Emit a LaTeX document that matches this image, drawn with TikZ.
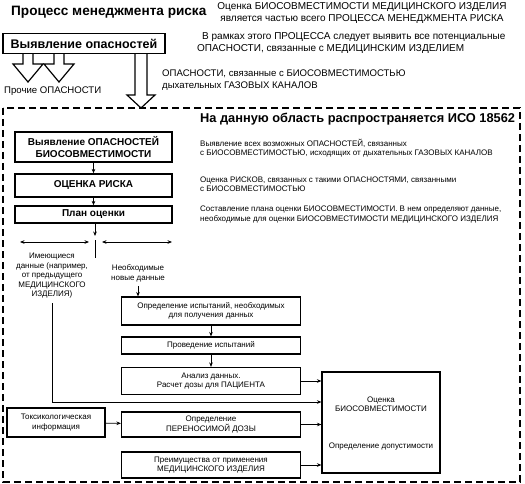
\documentclass[tikz,border=0pt]{standalone}
\usepackage{fontspec}
\setmainfont{Liberation Sans}
\usetikzlibrary{arrows.meta}
\newcommand\myfs[2]{\fontsize{#1}{#2}\selectfont}
\begin{document}
\begin{tikzpicture}[x=1pt,y=-1pt,
  box/.style={draw, line width=1.1pt, inner sep=0pt, align=center, font=\myfs{8}{9.5}},
  wbox/.style={box, minimum width=179pt},
  lbox/.style={draw, line width=1.3pt, inner sep=0pt, align=center, minimum width=157pt, font=\bfseries\myfs{10}{11.5}},
  txt/.style={inner sep=0pt, align=left, font=\myfs{8}{9.5}},
  mtxt/.style={inner sep=0pt, align=left, font=\myfs{9.6}{12}},
  conn/.style={line width=0.8pt, -{Stealth[length=4.5pt,width=3.6pt]}},
  plain/.style={line width=0.8pt},
  both/.style={line width=0.8pt, {Stealth[length=4.5pt,width=3.6pt]}-{Stealth[length=4.5pt,width=3.6pt]}},
  hollow/.style={draw, line width=1.2pt, fill=white, line join=miter}
]
\useasboundingbox (0,0) rectangle (525,484);
% dashed frame
\draw[line width=1.7pt, dash pattern=on 7pt off 4pt] (3,108) rectangle (520,482);
% top part
\node[inner sep=0pt, anchor=west, font=\bfseries\myfs{13.6}{15}] (title) at (11,12) {Процесс менеджмента риска};
\node[mtxt, align=center, font=\myfs{10}{12}] (tr1) at (362,13) {Оценка БИОСОВМЕСТИМОСТИ МЕДИЦИНСКОГО ИЗДЕЛИЯ\\является частью всего ПРОЦЕССА МЕНЕДЖМЕНТА РИСКА};
\node[mtxt, anchor=west, font=\myfs{10}{12}] (tr2) at (197,43.5) {\hspace*{5pt}В рамках этого ПРОЦЕССА следует выявить все потенциальные\\ОПАСНОСТИ, связанные с МЕДИЦИНСКИМ ИЗДЕЛИЕМ};
\node[mtxt, anchor=west] (tr3) at (162,80.5) {ОПАСНОСТИ, связанные с БИОСОВМЕСТИМОСТЬЮ\\дыхательных ГАЗОВЫХ КАНАЛОВ};
\node[mtxt, anchor=west] (other) at (4,91) {Прочие ОПАСНОСТИ};
% hollow arrows
\draw[hollow] (23,53) -- (23,64) -- (13,64) -- (28,82) -- (43,64) -- (33,64) -- (33,53);
\draw[hollow] (54,53) -- (54,64) -- (44,64) -- (59,82) -- (74,64) -- (64,64) -- (64,53);
\draw[hollow] (135,53) -- (135,95) -- (127,95) -- (141,108) -- (155,95) -- (147,95) -- (147,53);
\node[draw, line width=1.4pt, fill=white, inner sep=0pt, minimum width=162pt, minimum height=20pt, font=\bfseries\myfs{12.5}{14}] (hz) at (84,43.5) {Выявление опасностей};
% ISO region
\node[inner sep=0pt, anchor=west, font=\bfseries\myfs{12.8}{14}] (iso) at (200,119) {На данную область распространяется ИСО 18562};
\node[txt, anchor=west] (s1) at (200,148) {Выявление всех возможных ОПАСНОСТЕЙ, связанных\\с БИОСОВМЕСТИМОСТЬЮ, исходящих от дыхательных ГАЗОВЫХ КАНАЛОВ};
\node[txt, anchor=west] (s2) at (200,184) {Оценка РИСКОВ, связанных с такими ОПАСНОСТЯМИ, связанными\\с БИОСОВМЕСТИМОСТЬЮ};
\node[txt, anchor=west] (s3) at (200,214.5) {Составление плана оценки БИОСОВМЕСТИМОСТИ. В нем определяют данные,\\необходимые для оценки БИОСОВМЕСТИМОСТИ МЕДИЦИНСКОГО ИЗДЕЛИЯ};
\node[lbox, minimum height=30pt] (b1) at (93.5,147) {Выявление ОПАСНОСТЕЙ\\БИОСОВМЕСТИМОСТИ};
\node[lbox, minimum height=23pt] (b2) at (93.5,185.5) {ОЦЕНКА РИСКА};
\node[lbox, minimum height=17pt] (b3) at (93.5,214.5) {План оценки};
\draw[conn] (b1) -- (b2);
\draw[conn] (b2) -- (b3);
\coordinate (split) at (95,236);
\coordinate (bt) at (95,240);
\coordinate (bb) at (95,258);
\draw[conn] (b3.south -| split) -- (split);
\draw[plain] (bt) -- (bb);
\coordinate (la) at (20,242);
\coordinate (lb) at (89,242);
\coordinate (ra) at (102,242);
\coordinate (rb) at (172,242);
\draw[both] (la) -- (lb);
\draw[both] (ra) -- (rb);
\node[txt, align=center] (avail) at (52,276) {Имеющиеся\\данные (например,\\от предыдущего\\МЕДИЦИНСКОГО\\ИЗДЕЛИЯ)};
\node[txt, align=center] (newd) at (138,273.5) {Необходимые\\новые данные};
\node[wbox, minimum height=28pt] (t1) at (211,311) {Определение испытаний, необходимых\\для получения данных};
\node[wbox, minimum height=17pt] (t2) at (211,345.5) {Проведение испытаний};
\node[wbox, minimum height=27pt] (t3) at (211,381) {Анализ данных.\\Расчет дозы для ПАЦИЕНТА};
\node[box, minimum width=98pt, minimum height=29pt] (tox) at (56,422.5) {Токсикологическая\\информация};
\node[wbox, minimum height=25pt] (dose) at (211,424.5) {Определение\\ПЕРЕНОСИМОЙ ДОЗЫ};
\node[wbox, minimum height=26pt] (ben) at (211,465) {Преимущества от применения\\МЕДИЦИНСКОГО ИЗДЕЛИЯ};
\node[box, minimum width=118pt, minimum height=101pt] (big) at (381,422.5) {};
\node[txt, align=center] (bigt) at (381,404) {Оценка\\БИОСОВМЕСТИМОСТИ};
\node[txt, align=center] (bigb) at (381,447) {Определение допустимости};
\coordinate (nd) at (138,286);
\draw[conn] (nd) -- (nd |- t1.north);
\draw[conn] (t1) -- (t2);
\draw[conn] (t2) -- (t3);
\coordinate (lt) at (52,303);
\coordinate (lc) at (52,402);
\draw[conn] (lt) -- (lc) -- (lc -| big.west);
\draw[conn] (t3.east) -- (t3.east -| big.west);
\draw[conn] (tox) -- (dose);
\draw[conn] (dose.east) -- (dose.east -| big.west);
\draw[conn] (ben.east) -- (ben.east -| big.west);
\end{tikzpicture}
\end{document}
